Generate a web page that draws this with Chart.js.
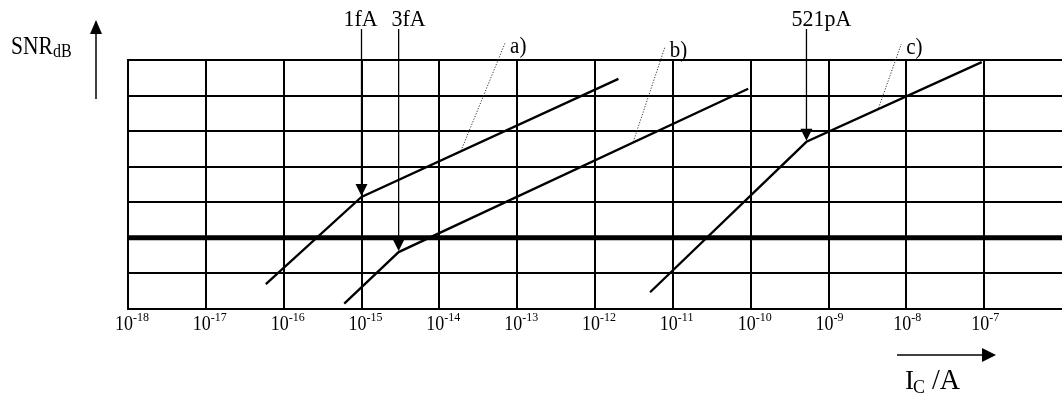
<!DOCTYPE html>
<html>
<head>
<meta charset="utf-8">
<script src="https://cdn.jsdelivr.net/npm/chart.js@4.4.1/dist/chart.umd.min.js"></script>
<style>
  html, body { margin: 0; padding: 0; background: #fff; }
  #wrap { width: 1062px; height: 396px; position: relative; }
</style>
</head>
<body>
<div id="wrap"><canvas id="snr-chart"></canvas></div>
<script>
// decades shown on the current axis (10^e A)
const tickExponents = [-18, -17, -16, -15, -14, -13, -12, -11, -10, -9, -8, -7];

// curves: collector current (A) vs SNR (dB, 10 dB per grid row)
const curveA_I = [5.9e-17, 1e-15, 2.0e-12];
const curveA_dB = [-13.0, 11.5, 44.7];
const curveB_I = [6.0e-16, 3e-15, 9.3e-11];
const curveB_dB = [-18.5, -4.0, 41.9];
const curveC_I = [5.1e-12, 5.21e-10, 9.3e-8];
const curveC_dB = [-15.3, 27.0, 49.4];

// the heavy 0 dB line
const thresholdI = [1e-18, 1e-6];
const thresholdDb = [0, 0];

// knee markers
const kneeLabels = ['1fA', '3fA', '521pA'];
const kneeI = [1e-15, 3e-15, 5.21e-10];
const kneeDb = [11.5, -4.0, 27.0];

// curve name leaders (dotted)
const curveNames = ['a)', 'b)', 'c)'];
const leaderFootI = [1.9e-14, 3.1e-12, 4.4e-9];
const leaderFootDb = [24.5, 27.0, 36.5];
const leaderTopI = [7.0e-14, 7.9e-12, 8.6e-9];
const leaderTopDb = [54.8, 53.6, 54.5];

const kneeLabelDx = [-1, 10, 15];
const serif = '"Liberation Serif", "Times New Roman", serif';

function pts(xs, ys) {
  return xs.map((v, i) => ({ x: v, y: ys[i] }));
}

// text in the original is a little taller than wide, so stretch it vertically
function tallText(ctx, str, x, y, size, stretch) {
  ctx.save();
  ctx.font = size + 'px ' + serif;
  ctx.translate(x, y);
  ctx.scale(1, stretch);
  ctx.fillText(str, 0, 0);
  const w = ctx.measureText(str).width;
  ctx.restore();
  return w;
}

const curveStyle = { borderColor: '#000', borderWidth: 2.3, pointRadius: 0, tension: 0, fill: false };

const datasets = [
  { ...curveStyle, data: pts(thresholdI, thresholdDb), borderWidth: 5 },
  { ...curveStyle, data: pts(curveA_I, curveA_dB) },
  { ...curveStyle, data: pts(curveB_I, curveB_dB) },
  { ...curveStyle, data: pts(curveC_I, curveC_dB) }
];
curveNames.forEach((n, i) => {
  datasets.push({
    data: [{ x: leaderFootI[i], y: leaderFootDb[i] }, { x: leaderTopI[i], y: leaderTopDb[i] }],
    borderColor: '#333', borderWidth: 1, borderDash: [1.2, 1.6], pointRadius: 0, clip: false
  });
});

const annotate = {
  id: 'annotate',
  afterDatasetsDraw(chart) {
    const { ctx, scales: { x, y } } = chart;
    ctx.save();
    ctx.fillStyle = '#000';
    ctx.strokeStyle = '#000';
    ctx.textBaseline = 'alphabetic';

    // tick labels 10^e
    ctx.textAlign = 'left';
    tickExponents.forEach(e => {
      const px = x.getPixelForValue(Math.pow(10, e));
      const w = tallText(ctx, '10', px - 13, 330, 18, 1.2);
      tallText(ctx, String(e), px - 13 + w, 321, 12, 1.1);
    });

    // knee arrows
    kneeI.forEach((I, i) => {
      const px = x.getPixelForValue(I);
      const tip = y.getPixelForValue(kneeDb[i]) - 1;
      ctx.lineWidth = 1.3;
      ctx.beginPath();
      ctx.moveTo(px, 29);
      ctx.lineTo(px, tip - 8);
      ctx.stroke();
      ctx.beginPath();
      ctx.moveTo(px - 6, tip - 12);
      ctx.lineTo(px + 6, tip - 12);
      ctx.lineTo(px, tip);
      ctx.closePath();
      ctx.fill();
      ctx.textAlign = 'center';
      tallText(ctx, kneeLabels[i], px + kneeLabelDx[i], 26, 22, 1.05);
    });

    // curve names
    ctx.textAlign = 'left';
    curveNames.forEach((n, i) => {
      const px = x.getPixelForValue(leaderTopI[i]);
      const py = y.getPixelForValue(leaderTopDb[i]);
      tallText(ctx, n, px + 5, py + 10, 21, 1.05);
    });

    // y title and arrow
    tallText(ctx, 'SNR', 11, 54, 21.5, 1.2);
    tallText(ctx, 'dB', 53, 57, 16, 1.15);
    ctx.lineWidth = 1.5;
    ctx.beginPath();
    ctx.moveTo(96, 99);
    ctx.lineTo(96, 30);
    ctx.stroke();
    ctx.beginPath();
    ctx.moveTo(90, 34);
    ctx.lineTo(102, 34);
    ctx.lineTo(96, 20);
    ctx.closePath();
    ctx.fill();

    // x title and arrow
    ctx.beginPath();
    ctx.moveTo(897, 355);
    ctx.lineTo(985, 355);
    ctx.stroke();
    ctx.beginPath();
    ctx.moveTo(982, 348);
    ctx.lineTo(982, 362);
    ctx.lineTo(996, 355);
    ctx.closePath();
    ctx.fill();
    tallText(ctx, 'I', 905, 389, 27, 1.05);
    tallText(ctx, 'C', 913, 393, 18, 1.05);
    tallText(ctx, '/A', 932, 389, 28, 1.05);

    ctx.restore();
  }
};

new Chart(document.getElementById('snr-chart'), {
  type: 'line',
  data: { datasets },
  options: {
    responsive: true,
    maintainAspectRatio: false,
    animation: false,
    layout: { padding: { left: 128, top: 60, right: 0, bottom: 87 }, autoPadding: false },
    plugins: { legend: { display: false }, tooltip: { enabled: false } },
    scales: {
      x: {
        type: 'logarithmic',
        min: 1e-18,
        max: 1e-6,
        afterBuildTicks: s => { s.ticks = tickExponents.map(e => ({ value: Math.pow(10, e) })); },
        ticks: { display: false },
        grid: { color: '#000', lineWidth: 2, drawTicks: false },
        border: { color: '#000', width: 2 }
      },
      y: {
        min: -20,
        max: 50,
        ticks: { display: false, stepSize: 10 },
        grid: { color: '#000', lineWidth: 2, drawTicks: false },
        border: { color: '#000', width: 2 }
      }
    }
  },
  plugins: [annotate]
});
</script>
</body>
</html>
